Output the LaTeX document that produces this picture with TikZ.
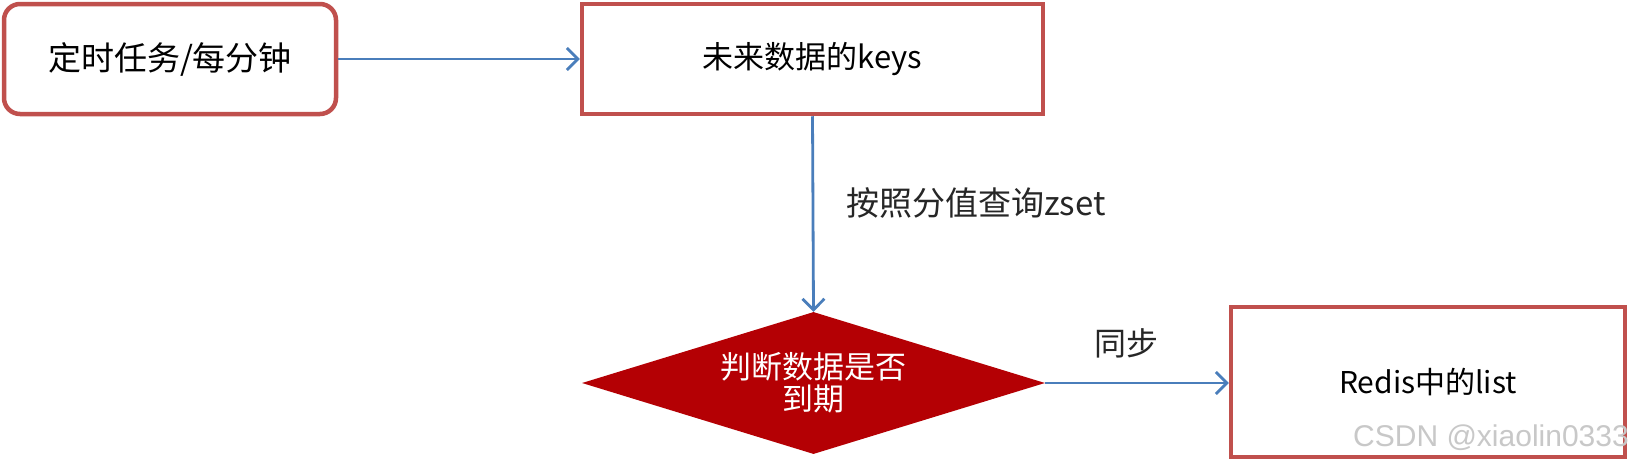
\documentclass[tikz,border=0pt]{standalone}
\usepackage{fontspec}
\setmainfont{Noto Sans CJK SC}
\newfontfamily\wmfont{Liberation Sans}
\usetikzlibrary{arrows.meta,shapes.geometric}
\definecolor{boxred}{RGB}{192,80,77}
\definecolor{arrowblue}{RGB}{74,126,187}
\definecolor{darkred}{RGB}{180,0,4}
\definecolor{wmgray}{RGB}{200,200,200}
\tikzset{
  boxnode/.style={draw=boxred, line width=4.5pt, fill=white, inner sep=0pt, align=center},
  conn/.style={draw=arrowblue, line width=2.8pt, -{Straight Barb[length=11pt,width=22pt,line width=2.8pt]}},
  lbl/.style={text=black!85, inner sep=0pt},
}
\begin{document}
\begin{tikzpicture}[x=1pt,y=-1pt]
\useasboundingbox (0,0) rectangle (1630,463);
\node[boxnode, rounded corners=16pt, minimum width=332pt, minimum height=110pt,
      font=\fontsize{33}{40}\selectfont] (b1) at (170,59) {定时任务/每分钟};
\node[boxnode, minimum width=461pt, minimum height=110pt,
      font=\fontsize{31}{38}\selectfont] (b2) at (812.5,59) {未来数据的keys};
\node[shape=diamond, fill=darkred, draw=none, aspect=3.26, inner sep=0pt,
      minimum width=463pt, minimum height=142pt, text=white, align=center,
      font=\fontsize{31}{32}\selectfont] (d) at (813.5,383) {判断数据是否\\到期};
\node[boxnode, minimum width=394pt, minimum height=150pt,
      font=\fontsize{30}{36}\selectfont] (b3) at (1428,382) {Redis中的list};
\draw[conn] (b1.east) -- (b2.west);
\draw[conn] (b2.south) -- (d.north);
\draw[conn] (d.east) -- (d.east -| b3.west);
\node[lbl, anchor=west, font=\fontsize{33}{38}\selectfont] (l1) at (846,203) {按照分值查询zset};
\node[lbl, font=\fontsize{32}{38}\selectfont] (l2) at (1126,343) {同步};
\node[anchor=base east, inner sep=0pt, text=wmgray, font=\wmfont\fontsize{30}{36}\selectfont] (wm) at (1629,446) {CSDN @xiaolin0333};
\end{tikzpicture}
\end{document}
